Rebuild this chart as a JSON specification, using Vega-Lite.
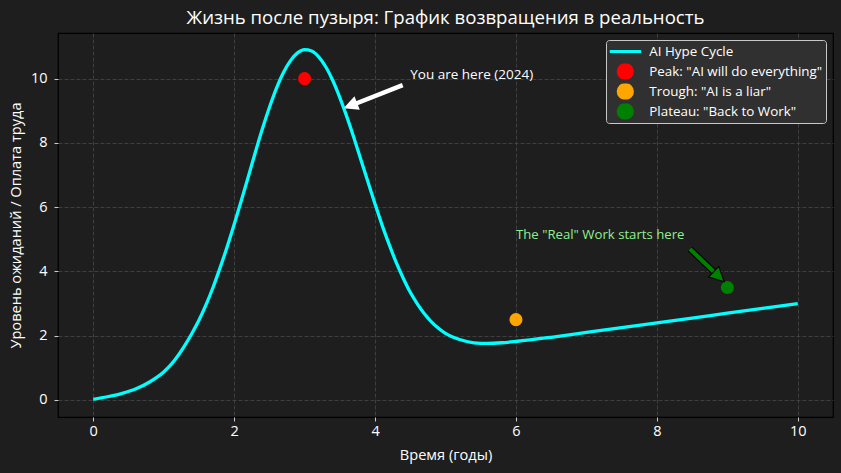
{
  "$schema": "https://vega.github.io/schema/vega-lite/v6.json",
  "width": 775,
  "height": 384,
  "autosize": "none",
  "padding": {"left": 58, "top": 33, "right": 8, "bottom": 56},
  "background": "#1e1e1e",
  "title": {
    "text": "Жизнь после пузыря: График возвращения в реальность",
    "color": "#ffffff",
    "fontSize": 18.6,
    "fontWeight": "normal",
    "font": "Open Sans",
    "anchor": "middle",
    "offset": 5
  },
  "config": {
    "font": "Open Sans",
    "view": {"stroke": "#000000", "strokeWidth": 1.2, "fill": "#1e1e1e"},
    "axis": {
      "grid": true,
      "gridColor": "#484848",
      "gridDash": [4, 2],
      "gridWidth": 0.8,
      "domain": false,
      "tickColor": "#e0e0e0",
      "tickSize": 4,
      "tickWidth": 0.9,
      "labelColor": "#ffffff",
      "labelFontSize": 14.5,
      "labelFont": "Open Sans",
      "titleColor": "#ffffff",
      "titleFontSize": 14.6,
      "titleFontWeight": "normal",
      "titleFont": "Open Sans"
    },
    "legend": {
      "labelColor": "#ffffff",
      "labelFontSize": 13.4,
      "labelFont": "Open Sans",
      "labelLimit": 400
    }
  },
  "encoding": {
    "x": {
      "field": "t",
      "type": "quantitative",
      "scale": {"domain": [-0.5, 10.5], "nice": false, "zero": false},
      "axis": {"values": [0, 2, 4, 6, 8, 10], "format": "d", "labelPadding": 3, "titleBaseline": "middle", "titleY": 38},
      "title": "Время (годы)"
    },
    "y": {
      "field": "v",
      "type": "quantitative",
      "scale": {"domain": [-0.53, 11.42], "nice": false, "zero": false},
      "axis": {"values": [0, 2, 4, 6, 8, 10], "format": "d", "labelPadding": 7, "titleBaseline": "middle", "titleX": -42},
      "title": "Уровень ожиданий / Оплата труда"
    }
  },
  "layer": [
    {
      "data": {"values": [
        {"t": 0.0, "v": 0.02}, {"t": 0.2, "v": 0.10}, {"t": 0.4, "v": 0.20}, {"t": 0.6, "v": 0.34},
        {"t": 0.8, "v": 0.56}, {"t": 1.0, "v": 0.87}, {"t": 1.1, "v": 1.09}, {"t": 1.2, "v": 1.37},
        {"t": 1.3, "v": 1.70}, {"t": 1.4, "v": 2.07}, {"t": 1.5, "v": 2.48}, {"t": 1.6, "v": 2.96},
        {"t": 1.7, "v": 3.50}, {"t": 1.8, "v": 4.11}, {"t": 1.9, "v": 4.76}, {"t": 2.0, "v": 5.46},
        {"t": 2.1, "v": 6.19}, {"t": 2.2, "v": 6.94}, {"t": 2.3, "v": 7.70}, {"t": 2.4, "v": 8.43},
        {"t": 2.5, "v": 9.10}, {"t": 2.6, "v": 9.70}, {"t": 2.7, "v": 10.19}, {"t": 2.8, "v": 10.56},
        {"t": 2.9, "v": 10.80}, {"t": 3.0, "v": 10.90}, {"t": 3.1, "v": 10.86}, {"t": 3.2, "v": 10.68},
        {"t": 3.3, "v": 10.37}, {"t": 3.4, "v": 9.94}, {"t": 3.5, "v": 9.41}, {"t": 3.6, "v": 8.81},
        {"t": 3.7, "v": 8.16}, {"t": 3.8, "v": 7.47}, {"t": 3.9, "v": 6.78}, {"t": 4.0, "v": 6.10},
        {"t": 4.1, "v": 5.44}, {"t": 4.2, "v": 4.84}, {"t": 4.3, "v": 4.28}, {"t": 4.4, "v": 3.79},
        {"t": 4.5, "v": 3.35}, {"t": 4.6, "v": 2.99}, {"t": 4.7, "v": 2.68}, {"t": 4.8, "v": 2.43},
        {"t": 4.9, "v": 2.23}, {"t": 5.0, "v": 2.07}, {"t": 5.2, "v": 1.88}, {"t": 5.4, "v": 1.78},
        {"t": 5.6, "v": 1.76}, {"t": 5.8, "v": 1.78}, {"t": 6.0, "v": 1.82}, {"t": 6.5, "v": 1.95},
        {"t": 7.0, "v": 2.10}, {"t": 7.5, "v": 2.25}, {"t": 8.0, "v": 2.40}, {"t": 8.5, "v": 2.55},
        {"t": 9.0, "v": 2.70}, {"t": 9.5, "v": 2.85}, {"t": 10.0, "v": 3.00}
      ]},
      "mark": {"type": "line", "strokeWidth": 3.3, "interpolate": "monotone"},
      "encoding": {
        "color": {
          "datum": "AI Hype Cycle",
          "type": "nominal",
          "scale": {
            "domain": ["AI Hype Cycle", "Peak: \"AI will do everything\"", "Trough: \"AI is a liar\"", "Plateau: \"Back to Work\""],
            "range": ["#00ffff", "#ff0000", "#ffa500", "#008000"]
          },
          "legend": {
            "title": null,
            "orient": "top-right",
            "offset": 7,
            "padding": 3.5,
            "fillColor": "#303030",
            "strokeColor": "#c8c8c8",
            "cornerRadius": 3,
            "symbolSize": 1000,
            "symbolStrokeWidth": 3,
            "symbolOffset": -1.7,
            "labelOffset": 6.5,
            "clipHeight": 16,
            "rowPadding": 4,
            "encode": {
              "symbols": {
                "update": {
                  "shape": {"signal": "datum.value === 'AI Hype Cycle' ? 'stroke' : 'M-0.45,0A0.45,0.45,0,1,0,0.45,0A0.45,0.45,0,1,0,-0.45,0Z'"},
                  "stroke": {"signal": "datum.value === 'AI Hype Cycle' ? scale('color', datum.value) : 'transparent'"},
                  "fill": {"signal": "datum.value === 'AI Hype Cycle' ? 'transparent' : scale('color', datum.value)"}
                }
              }
            }
          }
        }
      }
    },
    {
      "data": {"values": [
        {"t": 3, "v": 10, "label": "Peak: \"AI will do everything\""},
        {"t": 6, "v": 2.5, "label": "Trough: \"AI is a liar\""},
        {"t": 9, "v": 3.5, "label": "Plateau: \"Back to Work\""}
      ]},
      "mark": {"type": "point", "filled": true, "size": 170, "opacity": 1},
      "encoding": {
        "color": {"field": "label", "type": "nominal", "title": null}
      }
    },
    {
      "data": {"values": [{"t": 4.392, "v": 9.798, "t2": 3.65, "v2": 9.157}]},
      "mark": {"type": "rule", "color": "#ffffff", "strokeWidth": 4.5},
      "encoding": {"x2": {"field": "t2"}, "y2": {"field": "v2"}}
    },
    {
      "data": {"values": [{"t": 3.65, "v": 9.157}]},
      "mark": {"type": "point", "shape": "M0,-1L-1,1L1,1Z", "size": 210, "angle": 248.5, "filled": true, "color": "#ffffff", "opacity": 1},
      "encoding": {}
    },
    {
      "data": {"values": [{"t": 8.47, "v": 4.697, "t2": 8.882, "v2": 3.835}]},
      "mark": {"type": "rule", "color": "#000000", "strokeWidth": 6.5},
      "encoding": {"x2": {"field": "t2"}, "y2": {"field": "v2"}}
    },
    {
      "data": {"values": [{"t": 8.47, "v": 4.697, "t2": 8.882, "v2": 3.835}]},
      "mark": {"type": "rule", "color": "#008000", "strokeWidth": 4.2},
      "encoding": {"x2": {"field": "t2"}, "y2": {"field": "v2"}}
    },
    {
      "data": {"values": [{"t": 8.882, "v": 3.835}]},
      "mark": {"type": "point", "shape": "M0,-1L-1,1L1,1Z", "size": 210, "angle": 133.6, "filled": true, "fill": "#008000", "stroke": "#000000", "strokeWidth": 1.1, "opacity": 1},
      "encoding": {}
    },
    {
      "data": {"values": [{"t": 4.5, "v": 10, "note": "You are here (2024)"}]},
      "mark": {"type": "text", "align": "left", "baseline": "alphabetic", "color": "#ffffff", "fontSize": 13.5, "font": "Open Sans"},
      "encoding": {"text": {"field": "note"}}
    },
    {
      "data": {"values": [{"t": 6, "v": 5, "note": "The \"Real\" Work starts here"}]},
      "mark": {"type": "text", "align": "left", "baseline": "alphabetic", "color": "#90ee90", "fontSize": 13.2, "font": "Open Sans"},
      "encoding": {"text": {"field": "note"}}
    }
  ]
}
